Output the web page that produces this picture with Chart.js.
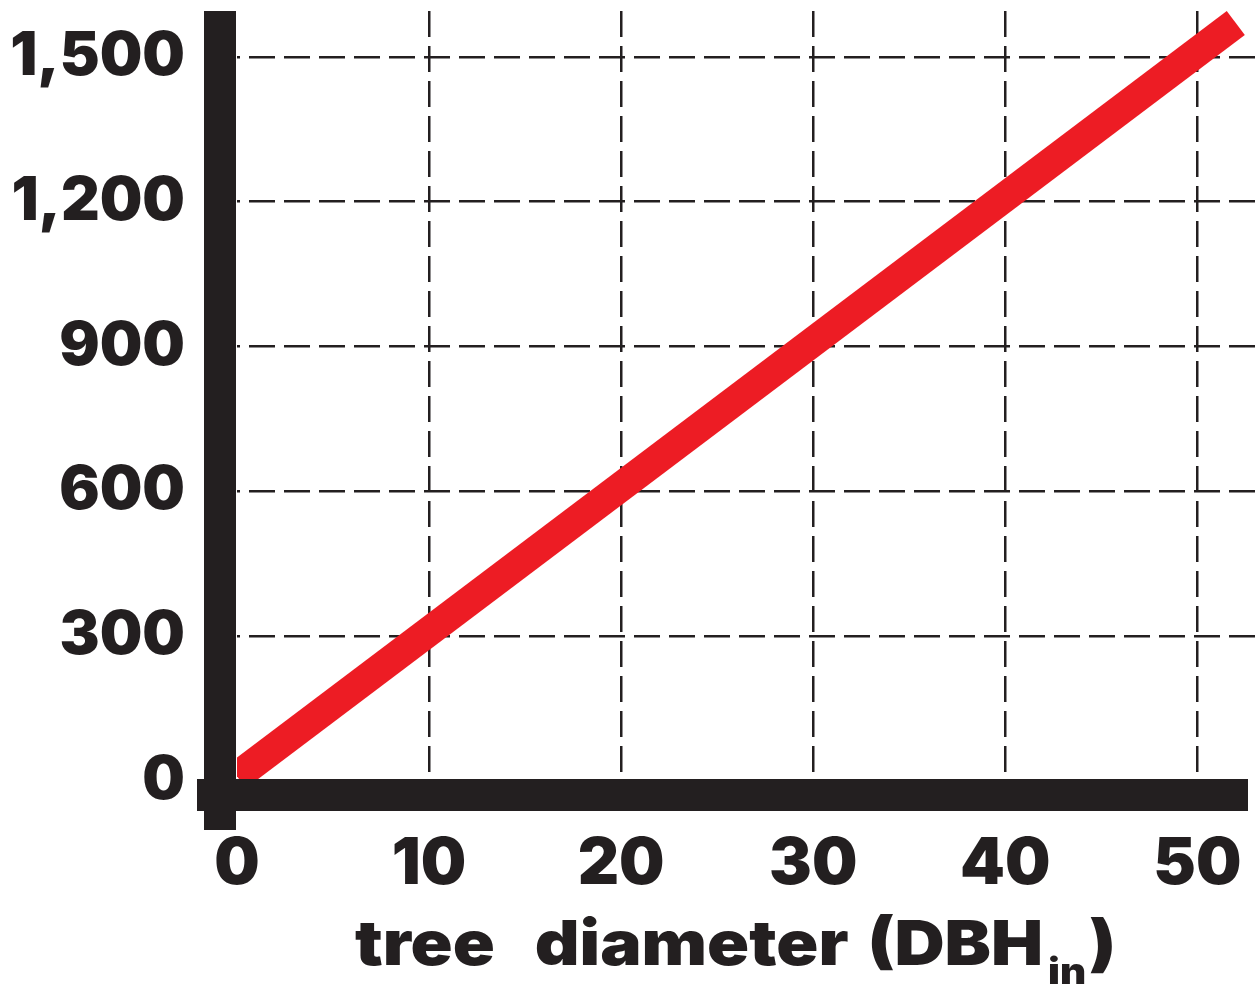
<!DOCTYPE html>
<html>
<head>
<meta charset="utf-8">
<title>tree diameter (DBH)</title>
<script src="https://cdn.jsdelivr.net/npm/chart.js@4"></script>
<style>
  html, body { margin: 0; padding: 0; background: #ffffff; }
  #wrap { width: 1255px; height: 985px; }
</style>
</head>
<body>
<div id="wrap"><canvas id="dbhChart"></canvas></div>
<script>
// Valores
const diameterValues = [0, 52];
const lineValues = [10, 1570];
const xTicks = [0, 10, 20, 30, 40, 50];
const yTicks = [0, 300, 600, 900, 1200, 1500];

const ink = '#231f20';
const red = '#ed1c24';
const heavyFont = 'Inter, Roboto, "Liberation Sans", sans-serif';

const points = diameterValues.map((x, i) => ({ x: x, y: lineValues[i] }));

// grade tracejada, sem linha no zero (fica atrás das barras pretas)
function gridColor(ctx) {
    return ctx.tick && ctx.tick.value === 0 ? 'rgba(0,0,0,0)' : ink;
}

// tira o espaço extra que o Chart.js reserva para os rótulos das pontas
function noEdgePadding(scale) {
    scale.paddingTop = 0;
    scale.paddingBottom = 0;
    scale.paddingLeft = 0;
    scale.paddingRight = 0;
}

// barras pretas grossas dos eixos, por cima da linha vermelha
const axisBars = {
    id: 'axisBars',
    afterDatasetsDraw(chart) {
        const { ctx, chartArea: a } = chart;
        ctx.save();
        ctx.fillStyle = ink;
        ctx.fillRect(a.left - 33, a.top, 32, a.bottom + 49 - a.top);
        ctx.fillRect(a.left - 40, a.bottom - 2, (a.right - 7) - (a.left - 40), 32);
        ctx.restore();
    }
};

// título do eixo x com o subscrito "in" (letra larga, como na figura)
const xTitle = {
    id: 'xTitle',
    afterDraw(chart) {
        const { ctx, chartArea: a } = chart;
        const big = '900 62px ' + heavyFont;
        const small = '900 36px ' + heavyFont;
        const sx = 1.12;
        const pieces = [
            { text: 'tree', font: big, dy: 0, gap: 40 },
            { text: 'diameter', font: big, dy: 0, gap: 19 },
            { text: '(DBH', font: big, dy: 0, gap: 5 },
            { text: 'in', font: small, dy: 19, gap: 3 },
            { text: ')', font: big, dy: 0, gap: 0 }
        ];
        ctx.save();
        ctx.fillStyle = ink;
        ctx.textBaseline = 'alphabetic';
        ctx.textAlign = 'left';
        let total = 0;
        pieces.forEach(p => {
            ctx.font = p.font;
            p.w = ctx.measureText(p.text).width * sx;
            total += p.w + p.gap;
        });
        let x = (a.left + a.right) / 2 - 10.5 - total / 2;
        pieces.forEach(p => {
            ctx.font = p.font;
            ctx.save();
            ctx.translate(x, 965 + p.dy);
            ctx.scale(sx, 1);
            ctx.fillText(p.text, 0, 0);
            ctx.restore();
            x += p.w + p.gap;
        });
        ctx.restore();
    }
};

const config = {
    type: 'line',
    data: {
        datasets: [{
            data: points,
            borderColor: red,
            borderWidth: 30,
            borderCapStyle: 'butt',
            pointRadius: 0,
            tension: 0
        }]
    },
    options: {
        responsive: true,
        maintainAspectRatio: false,
        animation: false,
        layout: { padding: { top: 11, right: 0, bottom: 0, left: 0 } },
        plugins: {
            legend: { display: false },
            tooltip: { enabled: false }
        },
        scales: {
            x: {
                type: 'linear',
                min: 0,
                max: 53,
                afterBuildTicks: scale => { scale.ticks = xTicks.map(v => ({ value: v })); },
                afterFit: scale => { scale.height = 204; noEdgePadding(scale); },
                grid: { color: gridColor, lineWidth: 2.5, drawTicks: false },
                border: { display: false, dash: [26, 9], dashOffset: 0 },
                ticks: {
                    color: ink,
                    padding: 45,
                    maxRotation: 0,
                    autoSkip: false,
                    font: { family: heavyFont, size: 64, weight: '900' }
                }
            },
            y: {
                type: 'linear',
                min: 0,
                max: 1595,
                afterBuildTicks: scale => { scale.ticks = yTicks.map(v => ({ value: v })); },
                afterFit: scale => { scale.width = 237; noEdgePadding(scale); },
                grid: { color: gridColor, lineWidth: 2.5, drawTicks: false },
                border: { display: false, dash: [26, 9], dashOffset: 23 },
                ticks: {
                    color: ink,
                    padding: 52,
                    autoSkip: false,
                    font: { family: heavyFont, size: 60, weight: '900' },
                    callback: v => v.toLocaleString('en-US')
                }
            }
        }
    },
    plugins: [axisBars, xTitle]
};

const dbhChart = new Chart(document.getElementById('dbhChart'), config);
</script>
</body>
</html>
